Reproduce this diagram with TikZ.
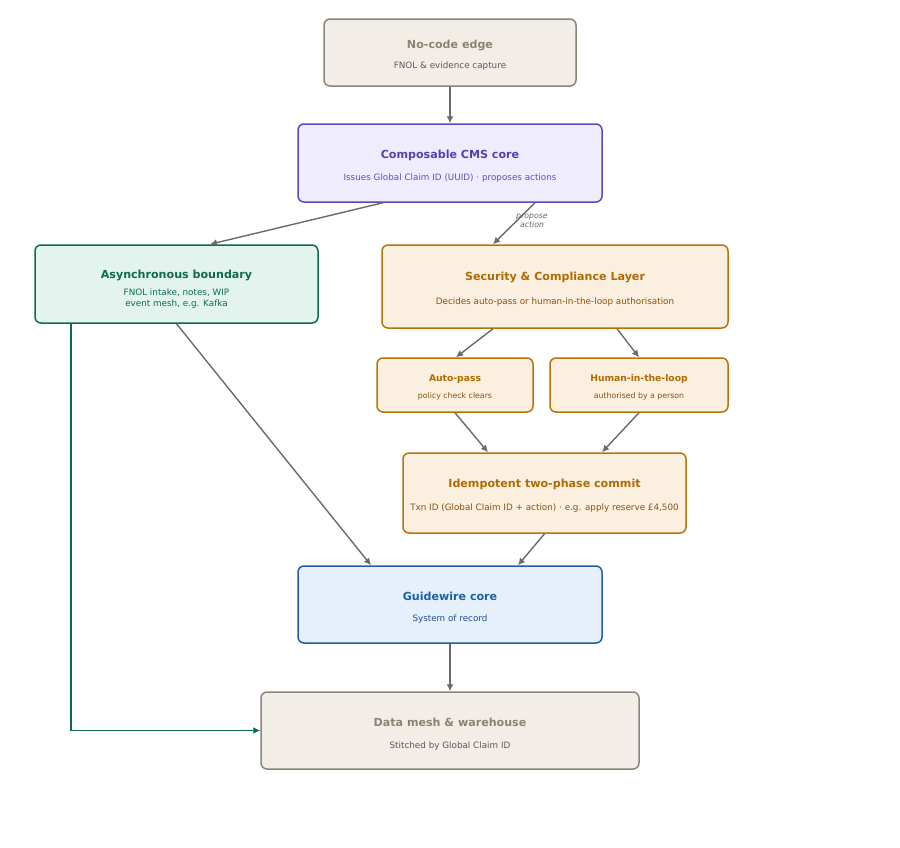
\documentclass[tikz,border=0pt]{standalone}
\usepackage{fontspec}
\setmainfont{DejaVu Sans}
\usetikzlibrary{arrows.meta,calc}
\definecolor{grayfill}{HTML}{F2EEE7}
\definecolor{graystroke}{HTML}{8C8574}
\definecolor{graytitle}{HTML}{8A8474}
\definecolor{graysub}{HTML}{5F5A50}
\definecolor{purfill}{HTML}{EEECFD}
\definecolor{purstroke}{HTML}{5A4ABA}
\definecolor{purtitle}{HTML}{4F44AE}
\definecolor{pursub}{HTML}{6050C0}
\definecolor{grnfill}{HTML}{E2F4ED}
\definecolor{grnstroke}{HTML}{0F6B50}
\definecolor{orgfill}{HTML}{FBEFDF}
\definecolor{orgstroke}{HTML}{B8730A}
\definecolor{orgtitle}{HTML}{B06A00}
\definecolor{orgsub}{HTML}{8A5210}
\definecolor{blufill}{HTML}{E6F0FB}
\definecolor{blustroke}{HTML}{1F5FA8}
\definecolor{blusub}{HTML}{1F4F90}
\definecolor{arrowgray}{HTML}{6A6A6A}
\begin{document}
\begin{tikzpicture}[x=1pt,y=-1pt,
  box/.style={draw, rounded corners=6pt, line width=1.5pt, inner sep=0pt},
  boxgray/.style={box, fill=grayfill, draw=graystroke},
  boxpur/.style={box, fill=purfill, draw=purstroke},
  boxgrn/.style={box, fill=grnfill, draw=grnstroke},
  boxorg/.style={box, fill=orgfill, draw=orgstroke},
  boxblu/.style={box, fill=blufill, draw=blustroke},
  ttl/.style={inner sep=0pt, font=\fontsize{11.1}{13}\selectfont\bfseries},
  sttl/.style={inner sep=0pt, font=\fontsize{9.2}{11}\selectfont\bfseries},
  sub/.style={inner sep=0pt, font=\fontsize{8.8}{11}\selectfont},
  ssub/.style={inner sep=0pt, font=\fontsize{7.8}{9.5}\selectfont},
  conn/.style={draw=arrowgray, line width=1.4pt, -{Latex[length=7pt,width=7pt]}},
  gconn/.style={draw=grnstroke, line width=1.5pt, -{Latex[length=7pt,width=7pt]}},
  elabel/.style={inner sep=0pt, align=center, text=arrowgray, font=\fontsize{7.8}{9.5}\selectfont\itshape}
]
\useasboundingbox (0,0) rectangle (900,847);

% No-code edge
\node[boxgray, minimum width=252pt, minimum height=67pt] (edge) at (450,52.5) {};
\node[ttl, text=graytitle] (edget) at (450,45) {No-code edge};
\node[sub, text=graysub] (edges) at (450,66) {FNOL \& evidence capture};

% CMS core
\node[boxpur, minimum width=304pt, minimum height=78pt] (cms) at (450,163) {};
\node[ttl, text=purtitle] (cmst) at (450,155) {Composable CMS core};
\node[sub, text=pursub] (cmss) at (450,178) {Issues Global Claim ID (UUID) · proposes actions};

% Async boundary
\node[boxgrn, minimum width=283pt, minimum height=78pt] (async) at (176.5,284) {};
\node[ttl, text=grnstroke] (asynct) at (176.5,275) {Asynchronous boundary};
\node[sub, text=grnstroke, align=center, font=\fontsize{8.8}{11}\selectfont] (asyncs) at (176.5,298.5) {FNOL intake, notes, WIP\\event mesh, e.g. Kafka};

% Security
\node[boxorg, minimum width=346pt, minimum height=83pt] (sec) at (555,286.5) {};
\node[ttl, text=orgtitle] (sect) at (555,277) {Security \& Compliance Layer};
\node[sub, text=orgsub] (secs) at (555,302) {Decides auto-pass or human-in-the-loop authorisation};

% Auto-pass
\node[boxorg, minimum width=156pt, minimum height=54pt] (auto) at (455,385) {};
\node[sttl, text=orgtitle] (autot) at (455,379) {Auto-pass};
\node[ssub, text=orgsub] (autos) at (455,396) {policy check clears};

% HITL
\node[boxorg, minimum width=178pt, minimum height=54pt] (hitl) at (639,385) {};
\node[sttl, text=orgtitle] (hitlt) at (639,379) {Human-in-the-loop};
\node[ssub, text=orgsub] (hitls) at (639,396) {authorised by a person};

% Idempotent
\node[boxorg, minimum width=283pt, minimum height=80pt] (idem) at (544.5,493) {};
\node[ttl, text=orgtitle] (idemt) at (544.5,484) {Idempotent two-phase commit};
\node[sub, text=orgsub] (idems) at (544.5,508) {Txn ID (Global Claim ID + action) · e.g. apply reserve £4,500};

% Guidewire
\node[boxblu, minimum width=304pt, minimum height=77pt] (gw) at (450,604.5) {};
\node[ttl, text=blustroke] (gwt) at (450,596) {Guidewire core};
\node[sub, text=blusub] (gws) at (450,619) {System of record};

% Data mesh
\node[boxgray, minimum width=378pt, minimum height=77pt] (mesh) at (450,730.5) {};
\node[ttl, text=graytitle] (mesht) at (450,722) {Data mesh \& warehouse};
\node[sub, text=graysub] (meshs) at (450,746) {Stitched by Global Claim ID};

% connectors
\draw[conn] (edge.south) -- (cms.north);
\draw[conn] ([xshift=-67pt]cms.south) -- ([xshift=33.5pt]async.north);
\draw[conn] ([xshift=85pt]cms.south) -- ([xshift=-62pt]sec.north);
\node[elabel] (propose) at (532,221) {propose\\action};
\draw[conn] ([xshift=-62pt]sec.south) -- ([xshift=1pt]auto.north);
\draw[conn] ([xshift=62pt]sec.south) -- ([xshift=0pt]hitl.north);
\draw[conn] (auto.south) -- ([xshift=-56.5pt]idem.north);
\draw[conn] (hitl.south) -- ([xshift=57.5pt]idem.north);
\draw[conn] (idem.south) -- ([xshift=68pt]gw.north);
\draw[conn] (async.south) -- ([xshift=-79pt]gw.north);
\draw[conn] (gw.south) -- (mesh.north);
\draw[gconn] ([xshift=-105.5pt]async.south) |- (mesh.west);
\end{tikzpicture}
\end{document}
